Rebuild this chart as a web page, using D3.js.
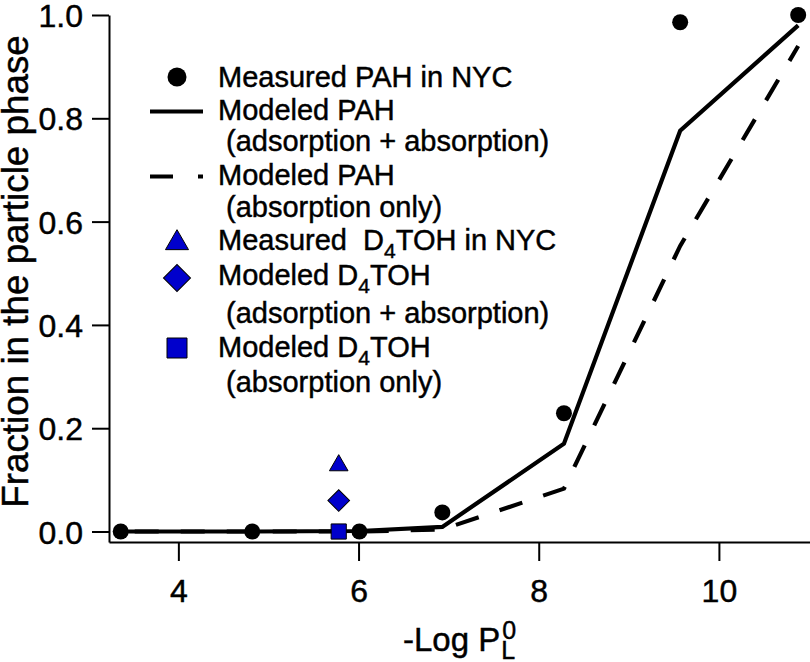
<!DOCTYPE html>
<html>
<head>
<meta charset="utf-8">
<script src="https://cdn.jsdelivr.net/npm/d3@7/dist/d3.min.js"></script>
<style>
  html, body { margin: 0; padding: 0; background: #fff; }
  svg { display: block; font-family: "Liberation Sans", Arial, Helvetica, sans-serif; }
  text { white-space: pre; stroke: #000; stroke-width: 0.45px; fill: #000; }
</style>
</head>
<body>
<svg id="chart" width="810" height="662"></svg>
<script>
// ---------- data ----------
const pahLogP = [3.36, 4.82, 6.01, 6.93, 8.28, 9.57, 10.88];
const pahMeasured = [0.0, 0.0, 0.0, 0.037, 0.229, 0.986, 1.0];
const pahModeledAdsAbs = [0.0, 0.0, 0.001, 0.009, 0.17, 0.776, 0.98];
const pahModeledAbsOnly = [0.0, 0.0, 0.0, 0.004, 0.083, 0.553, 0.94];

const d4tohLogP = [5.78];
const d4tohMeasured = [0.128];
const d4tohModeledAdsAbs = [0.06];
const d4tohModeledAbsOnly = [0.0];

const xTicks = [4, 6, 8, 10];
const yTicks = [0.0, 0.2, 0.4, 0.6, 0.8, 1.0];

const blue = "#0000CC";

// ---------- scales ----------
const svg = d3.select("#chart");
const x = d3.scaleLinear().domain([3.23, 11.02]).range([109, 810.8]);
const y = d3.scaleLinear().domain([-0.0203, 1.0]).range([542, 15]);

// ---------- axes ----------
const xAxis = d3.axisBottom(x).tickValues(xTicks).tickFormat(d3.format("d"))
  .tickSize(19).tickSizeOuter(0).tickPadding(18);
const gx = svg.append("g").attr("transform", `translate(0,${y(-0.0203)})`).call(xAxis);
gx.selectAll("text").attr("font-size", 32).attr("font-family", "Liberation Sans, Arial, sans-serif").attr("fill", "#000");

const yAxis = d3.axisLeft(y).tickValues(yTicks).tickFormat(d3.format(".1f"))
  .tickSize(17).tickSizeOuter(0).tickPadding(9);
const gy = svg.append("g").attr("transform", `translate(${x(3.23)},0)`).call(yAxis);
gy.selectAll("text").attr("font-size", 32).attr("font-family", "Liberation Sans, Arial, sans-serif").attr("fill", "#000").attr("dy", "0.36em");

[gx, gy].forEach(g => {
  g.selectAll(".domain").attr("stroke", "#000").attr("stroke-width", 2);
  g.selectAll(".tick line").attr("stroke", "#000").attr("stroke-width", 2);
});

// ---------- axis titles ----------
svg.append("text")
  .attr("transform", `translate(28,${271.5}) rotate(-90)`)
  .attr("text-anchor", "middle")
  .attr("font-size", 36.8)
  .text("Fraction in the particle phase");

const xt = svg.append("text").attr("x", 403).attr("y", 651).attr("font-size", 33);
xt.append("tspan").text("-Log P");
const xtEnd = 403 + xt.node().getComputedTextLength();
svg.append("text").attr("x", xtEnd + 1).attr("y", 659).attr("font-size", 25).text("L");
svg.append("text").attr("x", xtEnd + 2).attr("y", 639).attr("font-size", 25).text("0");

// ---------- lines ----------
const idx = d3.range(pahLogP.length);
const line = arr => d3.line().x(i => x(pahLogP[i])).y(i => y(arr[i]))(idx);

svg.append("path").attr("d", line(pahModeledAbsOnly))
  .attr("fill", "none").attr("stroke", "#000").attr("stroke-width", 4.2)
  .attr("stroke-dasharray", "24,22").attr("stroke-dashoffset", 32);
svg.append("path").attr("d", line(pahModeledAdsAbs))
  .attr("fill", "none").attr("stroke", "#000").attr("stroke-width", 4.2)
  .attr("stroke-linejoin", "miter");

// ---------- markers ----------
const sym = (type, size) => d3.symbol().type(type).size(size)();

svg.append("g").selectAll("circle").data(idx).join("circle")
  .attr("cx", i => x(pahLogP[i])).attr("cy", i => y(pahMeasured[i]))
  .attr("r", 8).attr("fill", "#000");

const blueMarker = (vals, type, size, rot) => {
  svg.append("g").selectAll("path").data(d3.range(d4tohLogP.length)).join("path")
    .attr("transform", i => `translate(${x(d4tohLogP[i])},${y(vals[i])}) rotate(${rot})`)
    .attr("d", sym(type, size))
    .attr("fill", blue).attr("stroke", "#000").attr("stroke-width", 1);
};
blueMarker(d4tohMeasured, d3.symbolTriangle, 150, 0);
blueMarker(d4tohModeledAdsAbs, d3.symbolSquare, 235, 45);
blueMarker(d4tohModeledAbsOnly, d3.symbolSquare, 230, 0);

// ---------- legend ----------
const legendLabels = [
  ["Measured PAH in NYC"],
  ["Modeled PAH", " (adsorption + absorption)"],
  ["Modeled PAH", " (absorption only)"],
  ["Measured  D|4|TOH in NYC"],
  ["Modeled D|4|TOH", "", " (adsorption + absorption)"],
  ["Modeled D|4|TOH", " (absorption only)"]
];
const legendBaselines = [
  [87],
  [120, 151],
  [185, 217],
  [250],
  [285, 0, 323],
  [357, 392]
];
const lg = svg.append("g").attr("font-size", 29);
const textX = 218, symX = 177;

legendLabels.forEach((lines, k) => {
  lines.forEach((s, j) => {
    if (!s) return;
    const t = lg.append("text").attr("x", textX).attr("y", legendBaselines[k][j]);
    const parts = s.split("|");
    if (parts.length === 1) { t.text(s); return; }
    t.append("tspan").text(parts[0]);
    t.append("tspan").attr("font-size", 21).attr("dy", 8).text(parts[1]);
    t.append("tspan").attr("dy", -8).text(parts[2]);
  });
});

// legend symbols
lg.append("circle").attr("cx", symX).attr("cy", legendBaselines[0][0] - 10).attr("r", 9.5).attr("fill", "#000");
lg.append("line").attr("x1", 150).attr("x2", 203)
  .attr("y1", legendBaselines[1][0] - 8.5).attr("y2", legendBaselines[1][0] - 8.5)
  .attr("stroke", "#000").attr("stroke-width", 4.2);
lg.append("line").attr("x1", 150).attr("x2", 203)
  .attr("y1", legendBaselines[2][0] - 8.5).attr("y2", legendBaselines[2][0] - 8.5)
  .attr("stroke", "#000").attr("stroke-width", 4.2).attr("stroke-dasharray", "23,25");
lg.append("path").attr("transform", `translate(${symX},${legendBaselines[3][0] - 7})`)
  .attr("d", sym(d3.symbolTriangle, 230)).attr("fill", blue).attr("stroke", "#000").attr("stroke-width", 1);
lg.append("path").attr("transform", `translate(${symX},${legendBaselines[4][0] - 7}) rotate(45)`)
  .attr("d", sym(d3.symbolSquare, 365)).attr("fill", blue).attr("stroke", "#000").attr("stroke-width", 1);
lg.append("path").attr("transform", `translate(${symX},${legendBaselines[5][0] - 9})`)
  .attr("d", sym(d3.symbolSquare, 400)).attr("fill", blue).attr("stroke", "#000").attr("stroke-width", 1);
</script>
</body>
</html>
